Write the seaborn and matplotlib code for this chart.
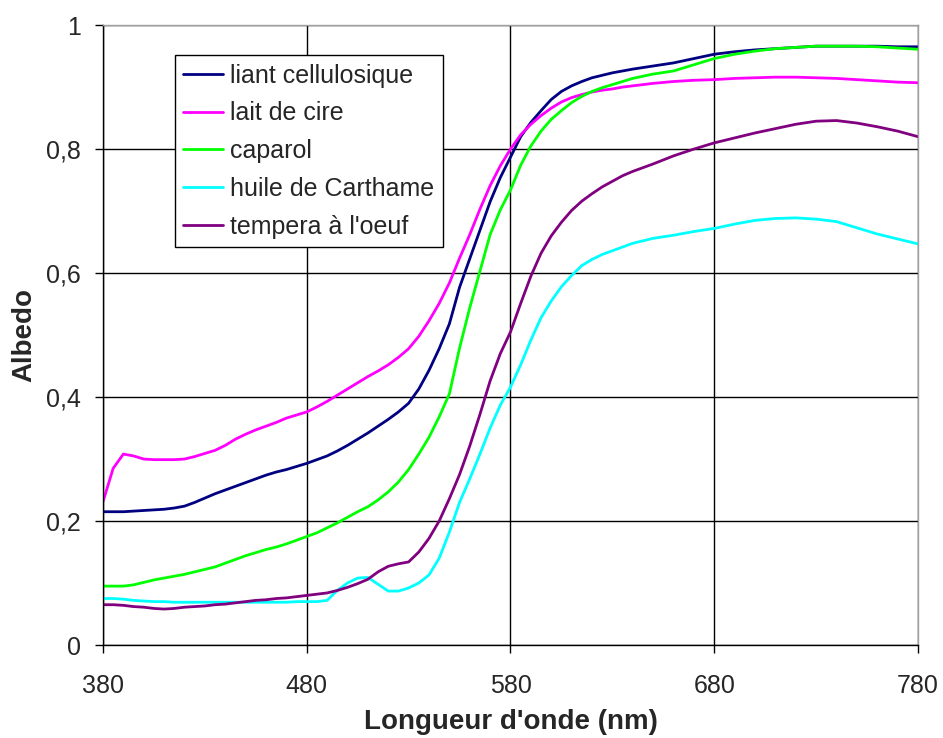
import pandas as pd
import seaborn as sns
import matplotlib
matplotlib.use("Agg")
import matplotlib.pyplot as plt
from matplotlib.ticker import FuncFormatter

# longueurs d'onde (nm)
wavelengths = list(range(380, 641, 5)) + list(range(650, 781, 10))

liant_cellulosique = [
    .215, .215, .215, .216, .217, .218, .219, .221, .224, .230, .237, .244, .250, .256,
    .262, .268, .274, .279, .283, .288, .293, .299, .305, .313, .322, .332, .342, .353,
    .364, .376, .390, .413, .443, .478, .518, .577, .623, .669, .715, .754, .787, .820,
    .843, .862, .880, .893, .902, .909, .915, .919, .923, .926, .929,
    .934, .939, .946, .953, .957, .960, .962, .964, .966, .966, .966, .966, .965, .965]

lait_de_cire = [
    .231, .285, .308, .305, .300, .299, .299, .299, .300, .304, .309, .314, .322, .332,
    .340, .347, .353, .359, .366, .371, .376, .384, .393, .403, .413, .423, .433, .442,
    .452, .464, .478, .498, .523, .551, .584, .624, .662, .703, .741, .773, .800, .823,
    .840, .854, .866, .876, .883, .888, .892, .895, .897, .900, .902,
    .906, .909, .911, .912, .914, .915, .916, .916, .915, .914, .912, .910, .908, .907]

caparol = [
    .095, .095, .095, .097, .101, .105, .108, .111, .114, .118, .122, .126, .132, .138,
    .144, .149, .154, .158, .163, .169, .175, .181, .189, .197, .206, .215, .223, .234,
    .247, .263, .283, .308, .335, .368, .405, .479, .544, .603, .662, .702, .734, .774,
    .805, .829, .848, .862, .875, .885, .893, .899, .904, .909, .914,
    .921, .926, .936, .946, .953, .958, .962, .964, .966, .966, .966, .965, .963, .961]

huile_carthame = [
    .075, .075, .074, .072, .071, .070, .070, .069, .069, .069, .069, .069, .069, .069,
    .069, .069, .069, .069, .069, .070, .070, .070, .072, .088, .100, .108, .109, .098,
    .087, .087, .092, .100, .113, .140, .182, .230, .268, .308, .350, .387, .416, .452,
    .492, .528, .555, .578, .596, .612, .622, .630, .636, .642, .648,
    .656, .661, .667, .672, .679, .685, .688, .689, .687, .683, .673, .663, .655, .647]

tempera_oeuf = [
    .065, .065, .064, .062, .061, .059, .058, .059, .061, .062, .063, .065, .066, .068,
    .070, .072, .073, .075, .076, .078, .080, .082, .084, .088, .093, .099, .106, .118,
    .127, .131, .134, .150, .172, .200, .236, .275, .321, .372, .426, .470, .505, .551,
    .595, .632, .660, .682, .701, .716, .728, .739, .748, .757, .764,
    .776, .789, .800, .810, .818, .826, .833, .840, .845, .846, .842, .836, .829, .820]

series_names = ["liant cellulosique", "lait de cire", "caparol",
                "huile de Carthame", "tempera à l'oeuf"]
series_values = [liant_cellulosique, lait_de_cire, caparol, huile_carthame, tempera_oeuf]
colors = ["#000080", "#FF00FF", "#00FF00", "#00FFFF", "#800080"]

rows = []
for name, vals in zip(series_names, series_values):
    for w, v in zip(wavelengths, vals):
        rows.append({"wl": w, "albedo": v, "serie": name})
df = pd.DataFrame(rows)

sns.set_style("white")
plt.rcParams['font.family'] = ['Liberation Sans', 'DejaVu Sans']

fig = plt.figure(figsize=(9.43, 7.38), dpi=100)
ax = fig.add_axes([0.1092, 0.126, 0.8643, 0.840])

sns.lineplot(data=df, x="wl", y="albedo", hue="serie", hue_order=series_names,
             palette=colors, linewidth=2.0, ax=ax, estimator=None, sort=False)

ax.set_xlim(380, 780)
ax.set_ylim(0, 1)
ax.set_xticks([380, 480, 580, 680, 780])
ax.set_yticks([0, 0.2, 0.4, 0.6, 0.8, 1.0])
ax.yaxis.set_major_formatter(FuncFormatter(lambda v, p: ("%g" % round(v, 1)).replace(".", ",")))
ax.grid(True, color="black", linewidth=1.0)
ax.set_axisbelow(True)

for s in ["left", "bottom"]:
    ax.spines[s].set_color("black")
    ax.spines[s].set_linewidth(1.0)
for s in ["top", "right"]:
    ax.spines[s].set_color("#a0a0a0")
    ax.spines[s].set_linewidth(1.0)

ax.tick_params(axis="both", which="major", direction="out", length=6, width=1,
               labelsize=18, color="black", bottom=True, left=True)
ax.tick_params(axis="x", pad=15)
ax.tick_params(axis="y", pad=10)

ax.set_xlabel("Longueur d'onde (nm)", fontsize=20, fontweight="bold", labelpad=8)
ax.set_ylabel("Albedo", fontsize=20, fontweight="bold", labelpad=6)

leg = ax.legend(loc="upper left", bbox_to_anchor=(0.088, 0.952), fontsize=18,
                frameon=True, fancybox=False, shadow=False, framealpha=1,
                borderpad=0.35, labelspacing=0.55, handlelength=1.6, handletextpad=0.25,
                borderaxespad=0)
leg.get_frame().set_edgecolor("black")
leg.get_frame().set_linewidth(1.0)

fig.savefig("out.png", dpi=100)
